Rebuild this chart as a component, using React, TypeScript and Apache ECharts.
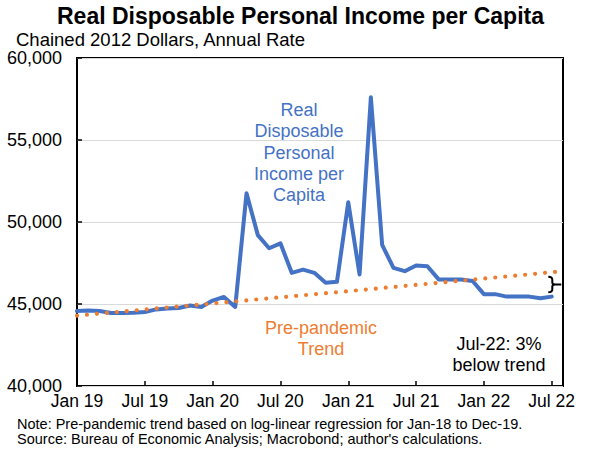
import React, { useEffect, useRef } from "react";
import * as echarts from "echarts";

const FONT = "'Liberation Sans', Arial, sans-serif";

// Months from Jan 2019 (index 0) to Aug 2022 (index 43)
const tickLabels = ["Jan 19", "Jul 19", "Jan 20", "Jul 20", "Jan 21", "Jul 21", "Jan 22", "Jul 22"];

// Real disposable personal income per capita, Jan 2019 .. Jul 2022 (monthly)
const incomeValues = [
  44570, 44600, 44570, 44450, 44450, 44460, 44510, 44670, 44730, 44760, 44910, 44820,
  45210, 45430, 44820, 51750, 49200, 48400, 48700, 46900, 47100, 46900, 46300, 46350,
  51200, 46800, 57600, 48600, 47200, 47000, 47350, 47300, 46500, 46500, 46500, 46400,
  45600, 45600, 45450, 45450, 45450, 45350, 45450,
];

// Pre-pandemic trend (month index, value)
const trendMonths = [0, 24, 43];
const trendValues = [44290, 45780, 47000];

const bracePath =
  "M0,0 Q4,0 4,3 L4,5.8 Q4,7.8 7,7.8 Q4,7.8 4,9.8 L4,12.6 Q4,15.6 0,15.6 M7,7.8 L13,7.8";

let registered = false;
function ensureShapes() {
  if (registered) return;
  echarts.graphic.registerShape("brace", echarts.graphic.extendPath(bracePath, {}));
  registered = true;
}

export default function App() {
  const ref = useRef<HTMLDivElement>(null);

  useEffect(() => {
    if (!ref.current) return;
    ensureShapes();
    const chart = echarts.init(ref.current, null, { renderer: "svg" });
    const option: any = {
      animation: false,
      backgroundColor: "#fff",
      title: [
        {
          text: "Real Disposable Personal Income per Capita",
          left: "center",
          top: 4,
          padding: 0,
          textStyle: { fontFamily: FONT, fontSize: 23, fontWeight: "bold", color: "#000" },
        },
        {
          text: "Chained 2012 Dollars, Annual Rate",
          left: 16,
          top: 30,
          padding: 0,
          textStyle: { fontFamily: FONT, fontSize: 18.5, fontWeight: "normal", color: "#000" },
        },
      ],
      grid: {
        left: 77,
        right: 38,
        top: 58,
        bottom: 65,
        show: true,
        borderColor: "#000",
        borderWidth: 2,
        backgroundColor: "transparent",
      },
      xAxis: {
        type: "value",
        min: 0,
        max: 43,
        interval: 6,
        axisLine: { show: false },
        axisTick: { show: true, inside: true, length: 5, lineStyle: { color: "#000", width: 1.5 } },
        splitLine: { show: false },
        axisLabel: {
          margin: 6,
          fontFamily: FONT,
          fontSize: 17.5,
          color: "#000",
          showMaxLabel: false,
          formatter: (v: number) => (v % 6 === 0 ? tickLabels[v / 6] ?? "" : ""),
        },
      },
      yAxis: {
        type: "value",
        min: 40000,
        max: 60000,
        interval: 5000,
        axisLine: { show: false },
        axisTick: { show: true, inside: true, length: 5, lineStyle: { color: "#000", width: 1.5 } },
        splitLine: { show: true, lineStyle: { color: "#D9D9D9", width: 1 } },
        axisLabel: {
          margin: 15,
          fontFamily: FONT,
          fontSize: 18,
          color: "#000",
          formatter: (v: number) => v.toLocaleString("en-US"),
        },
      },
      series: [
        {
          type: "line",
          name: "Income",
          data: incomeValues.map((v, i) => [i, v]),
          showSymbol: false,
          symbol: "none",
          lineStyle: { color: "#4472C4", width: 4, join: "round", cap: "round" },
          z: 2,
        },
        {
          type: "line",
          name: "Trend",
          data: trendMonths.map((m, i) => [m, trendValues[i]]),
          showSymbol: false,
          symbol: "none",
          lineStyle: { color: "#ED7D31", width: 4.2, type: [0, 10], cap: "round" },
          z: 3,
        },
      ],
      graphic: [
        {
          type: "text",
          x: 299,
          y: 152.5,
          style: {
            text: "Real\nDisposable\nPersonal\nIncome per\nCapita",
            textAlign: "center",
            verticalAlign: "middle",
            fontFamily: FONT,
            fontSize: 18,
            lineHeight: 21.3,
            fill: "#4472C4",
          },
        },
        {
          type: "text",
          x: 321,
          y: 317,
          style: {
            text: "Pre-pandemic\nTrend",
            textAlign: "center",
            fontFamily: FONT,
            fontSize: 18,
            lineHeight: 21.5,
            fill: "#ED7D31",
          },
        },
        {
          type: "text",
          x: 499,
          y: 333,
          style: {
            text: "Jul-22: 3%\nbelow trend",
            textAlign: "center",
            fontFamily: FONT,
            fontSize: 18,
            lineHeight: 21.5,
            fill: "#000",
          },
        },
        {
          type: "brace",
          x: 548.3,
          y: 276.7,
          style: { stroke: "#000", fill: "none", lineWidth: 2 },
        },
        {
          type: "text",
          x: 17,
          y: 416,
          style: {
            text: "Note: Pre-pandemic trend based on log-linear regression for Jan-18 to Dec-19.",
            fontFamily: FONT,
            fontSize: 14.5,
            fill: "#000",
          },
        },
        {
          type: "text",
          x: 17,
          y: 431,
          style: {
            text: "Source: Bureau of Economic Analysis; Macrobond; author's calculations.",
            fontFamily: FONT,
            fontSize: 14.5,
            fill: "#000",
          },
        },
      ],
    };
    chart.setOption(option);
    return () => chart.dispose();
  }, []);

  return (
    <div
      ref={ref}
      style={{ position: "absolute", left: 0, top: 0, width: 601, height: 451 }}
    />
  );
}
